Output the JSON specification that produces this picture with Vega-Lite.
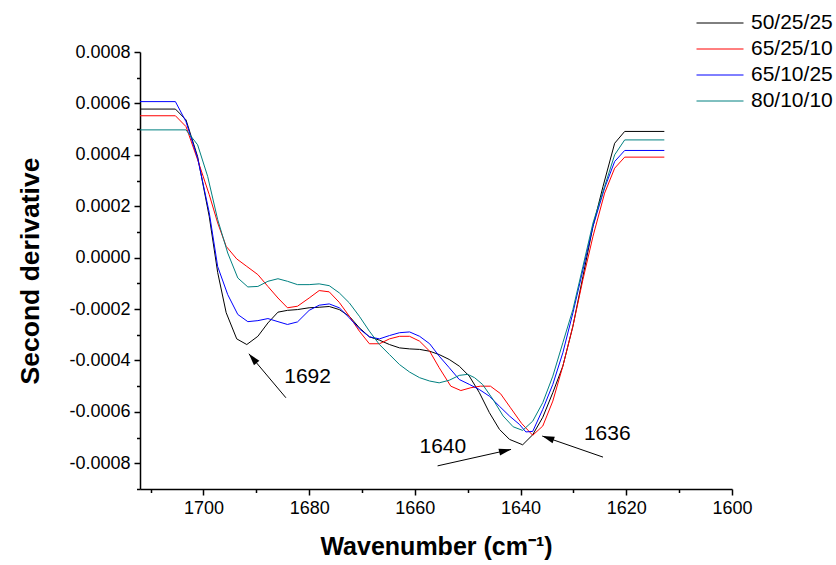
{
  "$schema": "https://vega.github.io/schema/vega-lite/v6.json",
  "width": 592,
  "height": 437,
  "autosize": {"type": "none"},
  "padding": {"left": 140, "top": 52, "right": 104, "bottom": 76},
  "background": "white",
  "view": {"stroke": null},
  "config": {
    "font": "Liberation Sans",
    "axis": {
      "grid": false,
      "domainColor": "black",
      "domainWidth": 1.5,
      "tickColor": "black",
      "tickWidth": 1.5,
      "labelColor": "black",
      "labelFont": "Liberation Sans",
      "labelFontSize": 18,
      "labelPadding": 4,
      "labelFlush": false,
      "labelOverlap": false,
      "titleColor": "black",
      "titleFont": "Liberation Sans",
      "titleFontWeight": "bold"
    }
  },
  "datasets": {
    "curves": [
      {"s": "50/25/25", "wn": 1712, "v": 0.000578},
      {"s": "50/25/25", "wn": 1705.3, "v": 0.000578},
      {"s": "50/25/25", "wn": 1703.3, "v": 0.000536},
      {"s": "50/25/25", "wn": 1701.1, "v": 0.000393},
      {"s": "50/25/25", "wn": 1698.9, "v": 0.00016},
      {"s": "50/25/25", "wn": 1697.3, "v": -0.000058},
      {"s": "50/25/25", "wn": 1695.7, "v": -0.000214},
      {"s": "50/25/25", "wn": 1693.7, "v": -0.000316},
      {"s": "50/25/25", "wn": 1691.8, "v": -0.000338},
      {"s": "50/25/25", "wn": 1689.7, "v": -0.000306},
      {"s": "50/25/25", "wn": 1687.8, "v": -0.000254},
      {"s": "50/25/25", "wn": 1685.9, "v": -0.000212},
      {"s": "50/25/25", "wn": 1684.1, "v": -0.000205},
      {"s": "50/25/25", "wn": 1682.2, "v": -0.000202},
      {"s": "50/25/25", "wn": 1680.0, "v": -0.000195},
      {"s": "50/25/25", "wn": 1678.1, "v": -0.000193},
      {"s": "50/25/25", "wn": 1676.2, "v": -0.00019},
      {"s": "50/25/25", "wn": 1674.3, "v": -0.000202},
      {"s": "50/25/25", "wn": 1672.4, "v": -0.000228},
      {"s": "50/25/25", "wn": 1670.5, "v": -0.000273},
      {"s": "50/25/25", "wn": 1668.6, "v": -0.000308},
      {"s": "50/25/25", "wn": 1666.7, "v": -0.000321},
      {"s": "50/25/25", "wn": 1664.8, "v": -0.000338},
      {"s": "50/25/25", "wn": 1662.9, "v": -0.000351},
      {"s": "50/25/25", "wn": 1661.0, "v": -0.000355},
      {"s": "50/25/25", "wn": 1659.1, "v": -0.000357},
      {"s": "50/25/25", "wn": 1657.2, "v": -0.000364},
      {"s": "50/25/25", "wn": 1655.4, "v": -0.000377},
      {"s": "50/25/25", "wn": 1653.5, "v": -0.000396},
      {"s": "50/25/25", "wn": 1651.6, "v": -0.000422},
      {"s": "50/25/25", "wn": 1649.7, "v": -0.000461},
      {"s": "50/25/25", "wn": 1647.8, "v": -0.000525},
      {"s": "50/25/25", "wn": 1645.9, "v": -0.000603},
      {"s": "50/25/25", "wn": 1644.0, "v": -0.000668},
      {"s": "50/25/25", "wn": 1642.1, "v": -0.000707},
      {"s": "50/25/25", "wn": 1639.6, "v": -0.000728},
      {"s": "50/25/25", "wn": 1637.7, "v": -0.000689},
      {"s": "50/25/25", "wn": 1635.8, "v": -0.000621},
      {"s": "50/25/25", "wn": 1633.9, "v": -0.000525},
      {"s": "50/25/25", "wn": 1632.0, "v": -0.000422},
      {"s": "50/25/25", "wn": 1630.1, "v": -0.000267},
      {"s": "50/25/25", "wn": 1628.2, "v": -0.000073},
      {"s": "50/25/25", "wn": 1626.3, "v": 0.000122},
      {"s": "50/25/25", "wn": 1624.4, "v": 0.000277},
      {"s": "50/25/25", "wn": 1622.2, "v": 0.000445},
      {"s": "50/25/25", "wn": 1620.3, "v": 0.000491},
      {"s": "50/25/25", "wn": 1612.8, "v": 0.000491},

      {"s": "65/25/10", "wn": 1712, "v": 0.000552},
      {"s": "65/25/10", "wn": 1705.3, "v": 0.000552},
      {"s": "65/25/10", "wn": 1703.3, "v": 0.00051},
      {"s": "65/25/10", "wn": 1701.1, "v": 0.000381},
      {"s": "65/25/10", "wn": 1698.9, "v": 0.000245},
      {"s": "65/25/10", "wn": 1697.3, "v": 0.000135},
      {"s": "65/25/10", "wn": 1695.7, "v": 0.000044},
      {"s": "65/25/10", "wn": 1693.7, "v": -0.000005},
      {"s": "65/25/10", "wn": 1691.8, "v": -0.000034},
      {"s": "65/25/10", "wn": 1689.7, "v": -0.000066},
      {"s": "65/25/10", "wn": 1687.8, "v": -0.000112},
      {"s": "65/25/10", "wn": 1685.9, "v": -0.000157},
      {"s": "65/25/10", "wn": 1684.1, "v": -0.000195},
      {"s": "65/25/10", "wn": 1682.2, "v": -0.000189},
      {"s": "65/25/10", "wn": 1680.0, "v": -0.000157},
      {"s": "65/25/10", "wn": 1678.1, "v": -0.000128},
      {"s": "65/25/10", "wn": 1676.2, "v": -0.000133},
      {"s": "65/25/10", "wn": 1674.3, "v": -0.000174},
      {"s": "65/25/10", "wn": 1672.4, "v": -0.000228},
      {"s": "65/25/10", "wn": 1670.5, "v": -0.000286},
      {"s": "65/25/10", "wn": 1668.6, "v": -0.000335},
      {"s": "65/25/10", "wn": 1666.7, "v": -0.000335},
      {"s": "65/25/10", "wn": 1664.8, "v": -0.000316},
      {"s": "65/25/10", "wn": 1662.9, "v": -0.000306},
      {"s": "65/25/10", "wn": 1661.0, "v": -0.000306},
      {"s": "65/25/10", "wn": 1659.1, "v": -0.000325},
      {"s": "65/25/10", "wn": 1657.2, "v": -0.000364},
      {"s": "65/25/10", "wn": 1655.4, "v": -0.000428},
      {"s": "65/25/10", "wn": 1653.2, "v": -0.0005},
      {"s": "65/25/10", "wn": 1651.3, "v": -0.000517},
      {"s": "65/25/10", "wn": 1649.4, "v": -0.000506},
      {"s": "65/25/10", "wn": 1647.6, "v": -0.0005},
      {"s": "65/25/10", "wn": 1645.7, "v": -0.0005},
      {"s": "65/25/10", "wn": 1643.8, "v": -0.000529},
      {"s": "65/25/10", "wn": 1641.9, "v": -0.000584},
      {"s": "65/25/10", "wn": 1639.8, "v": -0.000645},
      {"s": "65/25/10", "wn": 1637.7, "v": -0.000691},
      {"s": "65/25/10", "wn": 1635.8, "v": -0.000655},
      {"s": "65/25/10", "wn": 1633.9, "v": -0.000558},
      {"s": "65/25/10", "wn": 1632.0, "v": -0.000422},
      {"s": "65/25/10", "wn": 1630.1, "v": -0.000267},
      {"s": "65/25/10", "wn": 1628.2, "v": -0.000085},
      {"s": "65/25/10", "wn": 1626.3, "v": 0.000083},
      {"s": "65/25/10", "wn": 1624.1, "v": 0.000251},
      {"s": "65/25/10", "wn": 1622.2, "v": 0.000348},
      {"s": "65/25/10", "wn": 1620.3, "v": 0.000391},
      {"s": "65/25/10", "wn": 1612.8, "v": 0.000391},

      {"s": "65/10/25", "wn": 1712, "v": 0.000607},
      {"s": "65/10/25", "wn": 1705.3, "v": 0.000607},
      {"s": "65/10/25", "wn": 1703.3, "v": 0.000529},
      {"s": "65/10/25", "wn": 1701.1, "v": 0.000387},
      {"s": "65/10/25", "wn": 1698.9, "v": 0.000175},
      {"s": "65/10/25", "wn": 1697.3, "v": -0.000035},
      {"s": "65/10/25", "wn": 1695.4, "v": -0.000144},
      {"s": "65/10/25", "wn": 1693.5, "v": -0.000221},
      {"s": "65/10/25", "wn": 1691.6, "v": -0.000249},
      {"s": "65/10/25", "wn": 1689.7, "v": -0.000245},
      {"s": "65/10/25", "wn": 1687.8, "v": -0.000237},
      {"s": "65/10/25", "wn": 1685.9, "v": -0.000249},
      {"s": "65/10/25", "wn": 1684.1, "v": -0.00026},
      {"s": "65/10/25", "wn": 1682.2, "v": -0.00025},
      {"s": "65/10/25", "wn": 1680.0, "v": -0.000205},
      {"s": "65/10/25", "wn": 1678.1, "v": -0.000185},
      {"s": "65/10/25", "wn": 1676.2, "v": -0.00018},
      {"s": "65/10/25", "wn": 1674.3, "v": -0.000195},
      {"s": "65/10/25", "wn": 1672.4, "v": -0.000234},
      {"s": "65/10/25", "wn": 1670.5, "v": -0.000277},
      {"s": "65/10/25", "wn": 1668.6, "v": -0.000308},
      {"s": "65/10/25", "wn": 1666.7, "v": -0.000316},
      {"s": "65/10/25", "wn": 1664.8, "v": -0.000303},
      {"s": "65/10/25", "wn": 1662.9, "v": -0.000292},
      {"s": "65/10/25", "wn": 1661.0, "v": -0.000289},
      {"s": "65/10/25", "wn": 1659.1, "v": -0.000306},
      {"s": "65/10/25", "wn": 1657.2, "v": -0.000335},
      {"s": "65/10/25", "wn": 1655.4, "v": -0.000383},
      {"s": "65/10/25", "wn": 1653.5, "v": -0.000428},
      {"s": "65/10/25", "wn": 1651.6, "v": -0.000474},
      {"s": "65/10/25", "wn": 1649.7, "v": -0.000493},
      {"s": "65/10/25", "wn": 1647.8, "v": -0.000513},
      {"s": "65/10/25", "wn": 1645.9, "v": -0.000539},
      {"s": "65/10/25", "wn": 1644.0, "v": -0.000578},
      {"s": "65/10/25", "wn": 1642.1, "v": -0.000616},
      {"s": "65/10/25", "wn": 1640.2, "v": -0.000649},
      {"s": "65/10/25", "wn": 1639.0, "v": -0.000678},
      {"s": "65/10/25", "wn": 1637.7, "v": -0.000676},
      {"s": "65/10/25", "wn": 1635.8, "v": -0.00059},
      {"s": "65/10/25", "wn": 1633.9, "v": -0.000493},
      {"s": "65/10/25", "wn": 1632.0, "v": -0.00037},
      {"s": "65/10/25", "wn": 1630.1, "v": -0.000215},
      {"s": "65/10/25", "wn": 1628.2, "v": -0.000047},
      {"s": "65/10/25", "wn": 1626.3, "v": 0.000122},
      {"s": "65/10/25", "wn": 1624.1, "v": 0.000271},
      {"s": "65/10/25", "wn": 1622.2, "v": 0.000374},
      {"s": "65/10/25", "wn": 1620.3, "v": 0.000417},
      {"s": "65/10/25", "wn": 1612.8, "v": 0.000417},

      {"s": "80/10/10", "wn": 1712, "v": 0.000497},
      {"s": "80/10/10", "wn": 1703.3, "v": 0.000497},
      {"s": "80/10/10", "wn": 1701.1, "v": 0.000439},
      {"s": "80/10/10", "wn": 1699.2, "v": 0.000316},
      {"s": "80/10/10", "wn": 1697.3, "v": 0.000148},
      {"s": "80/10/10", "wn": 1695.4, "v": 0.000018},
      {"s": "80/10/10", "wn": 1693.5, "v": -0.000079},
      {"s": "80/10/10", "wn": 1691.6, "v": -0.000114},
      {"s": "80/10/10", "wn": 1689.7, "v": -0.000112},
      {"s": "80/10/10", "wn": 1687.8, "v": -0.000092},
      {"s": "80/10/10", "wn": 1685.9, "v": -0.000082},
      {"s": "80/10/10", "wn": 1684.1, "v": -0.000092},
      {"s": "80/10/10", "wn": 1682.2, "v": -0.000105},
      {"s": "80/10/10", "wn": 1680.0, "v": -0.000105},
      {"s": "80/10/10", "wn": 1678.1, "v": -0.000102},
      {"s": "80/10/10", "wn": 1676.2, "v": -0.000109},
      {"s": "80/10/10", "wn": 1674.3, "v": -0.000137},
      {"s": "80/10/10", "wn": 1672.4, "v": -0.000176},
      {"s": "80/10/10", "wn": 1670.5, "v": -0.000228},
      {"s": "80/10/10", "wn": 1668.6, "v": -0.000286},
      {"s": "80/10/10", "wn": 1666.7, "v": -0.000338},
      {"s": "80/10/10", "wn": 1664.8, "v": -0.000377},
      {"s": "80/10/10", "wn": 1662.9, "v": -0.000416},
      {"s": "80/10/10", "wn": 1661.0, "v": -0.000445},
      {"s": "80/10/10", "wn": 1659.1, "v": -0.000467},
      {"s": "80/10/10", "wn": 1657.2, "v": -0.00048},
      {"s": "80/10/10", "wn": 1655.4, "v": -0.000487},
      {"s": "80/10/10", "wn": 1653.5, "v": -0.000477},
      {"s": "80/10/10", "wn": 1651.6, "v": -0.000458},
      {"s": "80/10/10", "wn": 1650.0, "v": -0.000454},
      {"s": "80/10/10", "wn": 1648.7, "v": -0.000467},
      {"s": "80/10/10", "wn": 1647.2, "v": -0.000493},
      {"s": "80/10/10", "wn": 1645.2, "v": -0.000552},
      {"s": "80/10/10", "wn": 1643.3, "v": -0.000616},
      {"s": "80/10/10", "wn": 1641.4, "v": -0.000658},
      {"s": "80/10/10", "wn": 1639.6, "v": -0.000672},
      {"s": "80/10/10", "wn": 1637.7, "v": -0.000636},
      {"s": "80/10/10", "wn": 1635.8, "v": -0.000564},
      {"s": "80/10/10", "wn": 1633.9, "v": -0.000461},
      {"s": "80/10/10", "wn": 1632.0, "v": -0.000331},
      {"s": "80/10/10", "wn": 1630.1, "v": -0.000202},
      {"s": "80/10/10", "wn": 1628.2, "v": -0.000034},
      {"s": "80/10/10", "wn": 1626.3, "v": 0.000135},
      {"s": "80/10/10", "wn": 1624.1, "v": 0.000277},
      {"s": "80/10/10", "wn": 1622.2, "v": 0.0004},
      {"s": "80/10/10", "wn": 1620.3, "v": 0.000458},
      {"s": "80/10/10", "wn": 1612.8, "v": 0.000458}
    ],
    "notes": [
      {"label": "1692", "wn": 1680.3, "v": -0.000464},
      {"label": "1640", "wn": 1654.7, "v": -0.000738},
      {"label": "1636", "wn": 1623.6, "v": -0.000687}
    ],
    "arrows": [
      {"label": "1692", "wn": 1691.4, "v": -0.000374, "wn2": 1684.4, "v2": -0.000545},
      {"label": "1640", "wn": 1641.8, "v": -0.000746, "wn2": 1655.7, "v2": -0.00081},
      {"label": "1636", "wn": 1635.9, "v": -0.000694, "wn2": 1624.4, "v2": -0.000776}
    ]
  },
  "encoding": {
    "x": {
      "field": "wn",
      "type": "quantitative",
      "scale": {"domain": [1600, 1712], "reverse": true, "zero": false, "nice": false},
      "axis": {
        "title": "Wavenumber (cm⁻¹)",
        "titleFontSize": 25,
        "titlePadding": 17,
        "values": [1600, 1610, 1620, 1630, 1640, 1650, 1660, 1670, 1680, 1690, 1700, 1710],
        "format": "d",
        "labelExpr": "datum.value % 20 === 0 ? datum.label : ''",
        "tickSize": {"condition": {"test": "datum.value % 20 !== 0", "value": 3.5}, "value": 6}
      }
    },
    "y": {
      "field": "v",
      "type": "quantitative",
      "scale": {"domain": [-0.0009, 0.0008], "zero": false, "nice": false},
      "axis": {
        "title": "Second derivative",
        "titleFontSize": 26.5,
        "titlePadding": 24,
        "values": [-0.0009, -0.0008, -0.0007, -0.0006, -0.0005, -0.0004, -0.0003, -0.0002, -0.0001, 0, 0.0001, 0.0002, 0.0003, 0.0004, 0.0005, 0.0006, 0.0007, 0.0008],
        "labelExpr": "round(datum.value * 10000) % 2 !== 0 ? '' : (datum.value < -0.00000001 ? '-' + format(-datum.value, '.4f') : format(abs(datum.value), '.4f'))",
        "tickSize": {"condition": {"test": "round(datum.value * 10000) % 2 !== 0", "value": 3.5}, "value": 6}
      }
    }
  },
  "layer": [
    {
      "data": {"name": "curves"},
      "mark": {"type": "line", "strokeWidth": 1, "clip": true},
      "encoding": {
        "color": {
          "field": "s",
          "type": "nominal",
          "scale": {
            "domain": ["50/25/25", "65/25/10", "65/10/25", "80/10/10"],
            "range": ["#000000", "#ff0000", "#0000ff", "#008080"]
          },
          "legend": {
            "title": null,
            "orient": "none",
            "legendX": 556,
            "legendY": -42,
            "padding": 0,
            "symbolType": "stroke",
            "symbolSize": 2209,
            "symbolStrokeWidth": 1,
            "labelFont": "Liberation Sans",
            "labelFontSize": 21,
            "labelColor": "black",
            "labelOffset": 7,
            "clipHeight": 26,
            "rowPadding": 0
          }
        }
      }
    },
    {
      "data": {"name": "arrows"},
      "mark": {"type": "rule", "color": "black", "strokeWidth": 1},
      "encoding": {
        "x2": {"field": "wn2"},
        "y2": {"field": "v2"}
      }
    },
    {
      "data": {"name": "arrows"},
      "mark": {"type": "point", "shape": "M0,0L0.32,1.1L-0.32,1.1Z", "filled": true, "color": "black", "opacity": 1, "size": 484},
      "encoding": {
        "angle": {
          "condition": [
            {"test": "datum.label === '1692'", "value": 320},
            {"test": "datum.label === '1640'", "value": 77}
          ],
          "value": 289
        }
      }
    },
    {
      "data": {"name": "notes"},
      "mark": {"type": "text", "font": "Liberation Sans", "fontSize": 21, "color": "black", "align": "center", "baseline": "middle"},
      "encoding": {
        "text": {"field": "label"}
      }
    }
  ]
}
